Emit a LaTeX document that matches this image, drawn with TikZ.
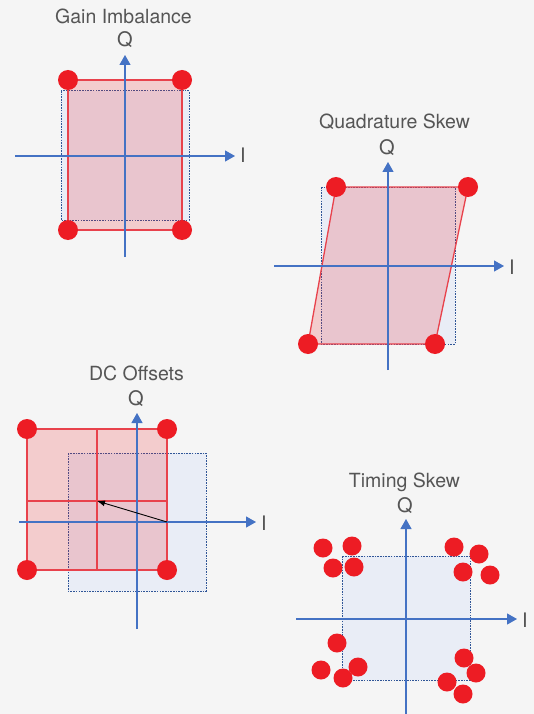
\documentclass[tikz,border=0pt]{standalone}
\usepackage{fontspec}
\setmainfont{TeX Gyre Heros}
\usetikzlibrary{arrows.meta}
\definecolor{bgcol}{HTML}{F5F5F5}
\definecolor{axblue}{HTML}{4472C4}
\definecolor{idealblue}{HTML}{2F5597}
\definecolor{idealfill}{HTML}{E9EDF6}
\definecolor{dotred}{HTML}{ED1C24}
\definecolor{edgered}{HTML}{E8424C}
\definecolor{txtgrey}{HTML}{555555}
\tikzset{
  axis/.style={draw=axblue, line width=1.2pt, -{Triangle[length=10pt,width=11pt]}},
  ideal/.style={draw=idealblue, fill=idealfill, line width=1pt,
    dash pattern=on 1.6pt off 1.1pt},
  skewed/.style={draw=edgered, line width=1.3pt, fill=dotred, fill opacity=0.19},
  cross/.style={draw=edgered, line width=1.2pt},
  dot/.style={circle, fill=dotred, minimum size=20pt, inner sep=0pt},
  tdot/.style={dot, minimum size=19pt},
  ttl/.style={anchor=base, inner sep=0pt, text=txtgrey,
    font=\fontsize{19.5}{22}\selectfont},
  axlbl/.style={ttl, font=\fontsize{20}{22}\selectfont},
  offsetarrow/.style={-{Latex[length=8pt,width=6pt]}, line width=0.9pt, black}
}

\begin{document}
\begin{tikzpicture}[x=1pt,y=-1pt]
  \fill[bgcol] (0,0) rectangle (534,714);
  \useasboundingbox (0,0) rectangle (534,714);

  % gain imbalance
  \draw[ideal] (61,91) rectangle (189,220);
  \draw[skewed] (68,80) rectangle (182,230);
  \coordinate (g-I0) at (15,156);  \coordinate (g-I1) at (235,156);
  \coordinate (g-Q0) at (125,257); \coordinate (g-Q1) at (125,55);
  \draw[axis] (g-I0) -- (g-I1);
  \draw[axis] (g-Q0) -- (g-Q1);
  \node[ttl] (g-ttl) at (123.5,24) {Gain Imbalance};
  \node[axlbl] (g-q) at (125,47) {Q};
  \node[axlbl] (g-i) at (243,163) {I};
  \foreach \x/\y [count=\k] in {68/80,182/80,182/230,68/230}
    \node[dot] (g-d\k) at (\x,\y) {};

  % quadrature skew
  \draw[ideal] (321,187) rectangle (455,344);
  \coordinate (q-c1) at (336,187); \coordinate (q-c2) at (468,187);
  \coordinate (q-c3) at (435,344); \coordinate (q-c4) at (308,344);
  \draw[skewed] (q-c1) -- (q-c2) -- (q-c3) -- (q-c4) -- cycle;
  \coordinate (q-I0) at (274,266); \coordinate (q-I1) at (504,266);
  \coordinate (q-Q0) at (388,370); \coordinate (q-Q1) at (388,162);
  \draw[axis] (q-I0) -- (q-I1);
  \draw[axis] (q-Q0) -- (q-Q1);
  \node[ttl] (q-ttl) at (394.5,129) {Quadrature Skew};
  \node[axlbl] (q-q) at (387,155) {Q};
  \node[axlbl] (q-i) at (512,274) {I};
  \foreach \k in {1,...,4}
    \node[dot] (q-d\k) at (q-c\k) {};

  % dc offsets
  \draw[ideal] (68,453) rectangle (206,591);
  \draw[skewed] (27,429) rectangle (167,570);
  \coordinate (d-v0) at (97,429);  \coordinate (d-v1) at (97,570);
  \coordinate (d-h0) at (27,501);  \coordinate (d-h1) at (167,501);
  \draw[cross] (d-v0) -- (d-v1);
  \draw[cross] (d-h0) -- (d-h1);
  \coordinate (d-I0) at (19,522);  \coordinate (d-I1) at (256,522);
  \coordinate (d-Q0) at (137,629); \coordinate (d-Q1) at (137,413);
  \draw[axis] (d-I0) -- (d-I1);
  \draw[axis] (d-Q0) -- (d-Q1);
  \coordinate (d-from) at (167,522); \coordinate (d-to) at (97,501);
  \draw[offsetarrow] (d-from) -- (d-to);
  \node[ttl] (d-ttl) at (136.5,380) {DC Offsets};
  \node[axlbl] (d-q) at (136,405) {Q};
  \node[axlbl] (d-i) at (264,530) {I};
  \foreach \x/\y [count=\k] in {27/429,167/429,167/570,27/570}
    \node[dot] (d-d\k) at (\x,\y) {};

  % timing skew
  \draw[ideal] (342,556) rectangle (470,680);
  \coordinate (t-I0) at (296,619); \coordinate (t-I1) at (517,619);
  \coordinate (t-Q0) at (406,714); \coordinate (t-Q1) at (406,519);
  \draw[axis] (t-I0) -- (t-I1);
  \draw[axis] (t-Q0) -- (t-Q1);
  \node[ttl] (t-ttl) at (404.5,487) {Timing Skew};
  \node[axlbl] (t-q) at (405,512) {Q};
  \node[axlbl] (t-i) at (525,627) {I};
  \foreach \x/\y [count=\k] in {323/548,352/546,333/568,354/567,
      454/547,479/554,463/572,490/575,
      337/643,321/670,358/667,343/678,
      464/658,476/673,447/682,463/694}
    \node[tdot] (t-d\k) at (\x,\y) {};
\end{tikzpicture}
\end{document}
